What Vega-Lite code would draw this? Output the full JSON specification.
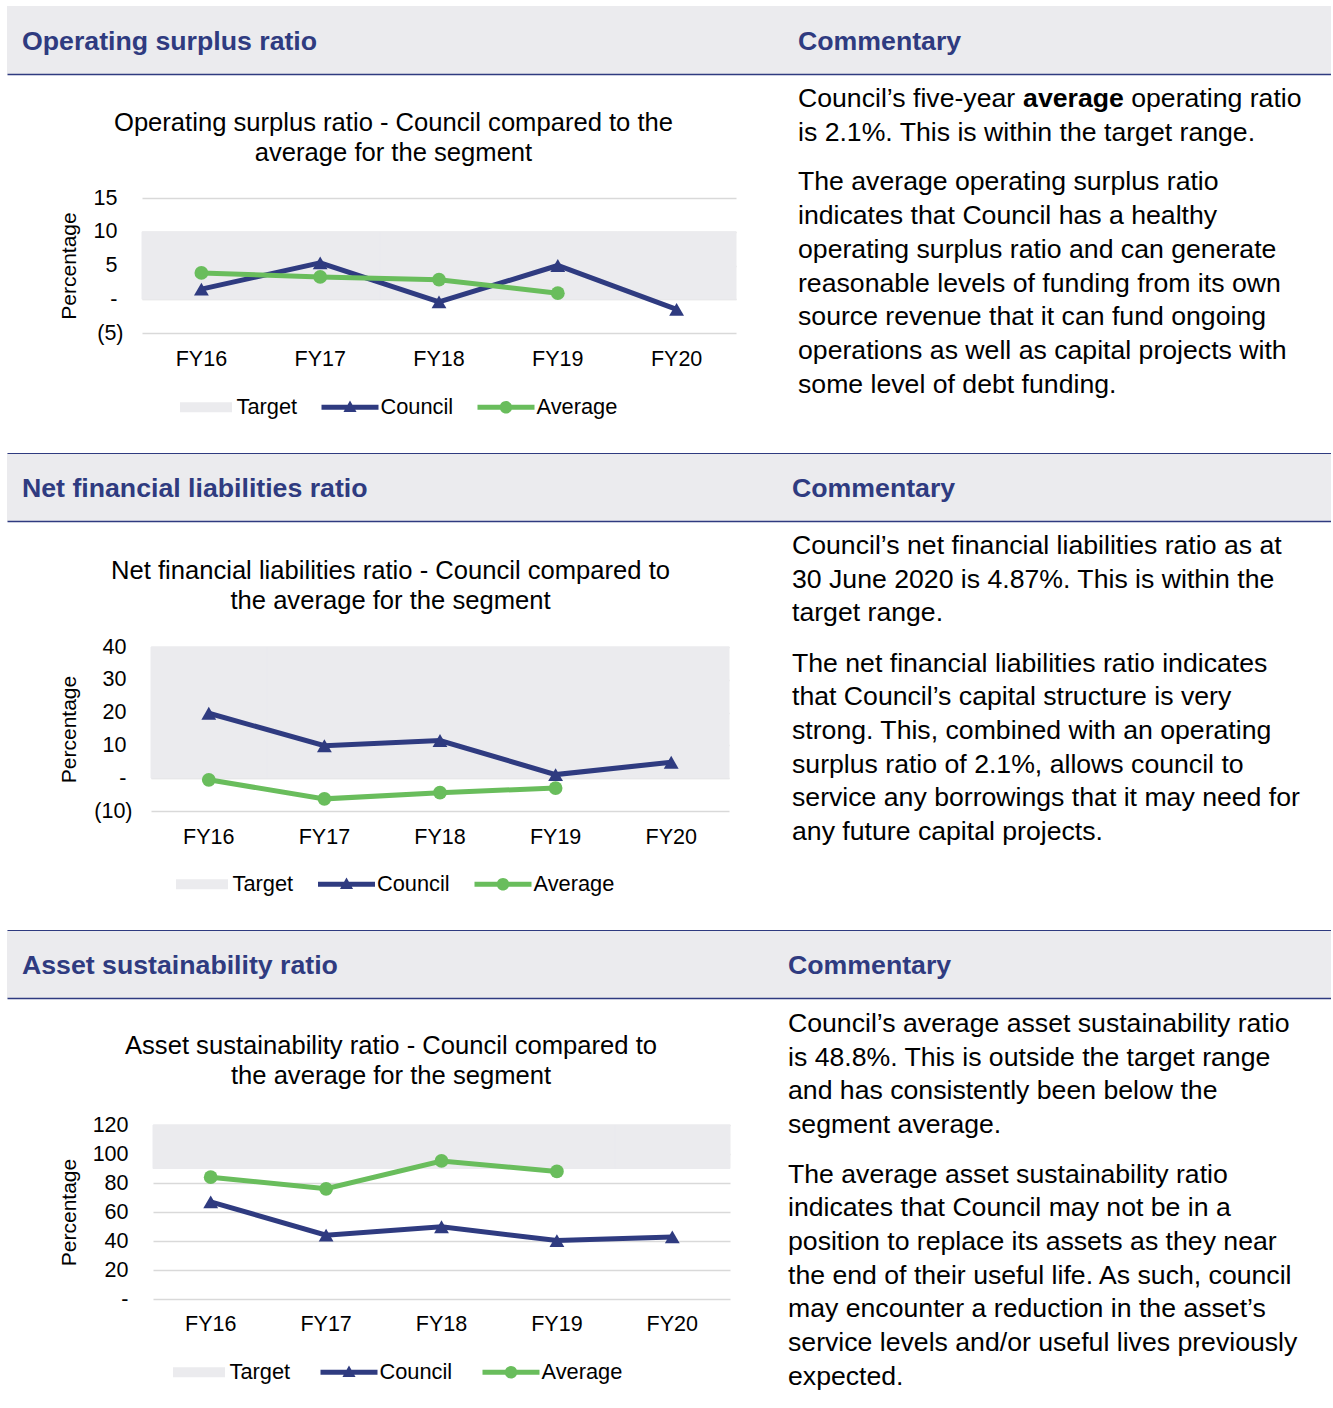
{
  "$schema": "https://vega.github.io/schema/vega-lite/v6.json",
  "background": "white",
  "padding": {"left": 7, "top": 6, "right": 0, "bottom": 0},
  "spacing": 0,
  "resolve": {"scale": {"x": "independent", "y": "independent", "color": "independent"}, "legend": {"color": "independent"}},
  "config": {
    "view": {"stroke": null},
    "font": "Liberation Sans",
    "concat": {"spacing": 0}
  },
  "datasets": {
    "osr": [
      {"year": "FY16", "series": "Council", "value": 1.5},
      {"year": "FY17", "series": "Council", "value": 5.4},
      {"year": "FY18", "series": "Council", "value": -0.4},
      {"year": "FY19", "series": "Council", "value": 5.0},
      {"year": "FY20", "series": "Council", "value": -1.5},
      {"year": "FY16", "series": "Average", "value": 3.9},
      {"year": "FY17", "series": "Average", "value": 3.3},
      {"year": "FY18", "series": "Average", "value": 2.9},
      {"year": "FY19", "series": "Average", "value": 0.9}
    ],
    "osr_t": [
      {"year": "FY16", "series": "Target", "lo": 0, "hi": 10},
      {"year": "FY17", "series": "Target", "lo": 0, "hi": 10},
      {"year": "FY18", "series": "Target", "lo": 0, "hi": 10},
      {"year": "FY19", "series": "Target", "lo": 0, "hi": 10},
      {"year": "FY20", "series": "Target", "lo": 0, "hi": 10}
    ],
    "nfl": [
      {"year": "FY16", "series": "Council", "value": 19.8},
      {"year": "FY17", "series": "Council", "value": 9.9},
      {"year": "FY18", "series": "Council", "value": 11.5},
      {"year": "FY19", "series": "Council", "value": 1.1},
      {"year": "FY20", "series": "Council", "value": 4.87},
      {"year": "FY16", "series": "Average", "value": -0.5},
      {"year": "FY17", "series": "Average", "value": -6.3},
      {"year": "FY18", "series": "Average", "value": -4.4},
      {"year": "FY19", "series": "Average", "value": -3.0}
    ],
    "nfl_t": [
      {"year": "FY16", "series": "Target", "lo": 0, "hi": 40},
      {"year": "FY17", "series": "Target", "lo": 0, "hi": 40},
      {"year": "FY18", "series": "Target", "lo": 0, "hi": 40},
      {"year": "FY19", "series": "Target", "lo": 0, "hi": 40},
      {"year": "FY20", "series": "Target", "lo": 0, "hi": 40}
    ],
    "asr": [
      {"year": "FY16", "series": "Council", "value": 67.0},
      {"year": "FY17", "series": "Council", "value": 44.0},
      {"year": "FY18", "series": "Council", "value": 49.8},
      {"year": "FY19", "series": "Council", "value": 40.3},
      {"year": "FY20", "series": "Council", "value": 42.8},
      {"year": "FY16", "series": "Average", "value": 84.0},
      {"year": "FY17", "series": "Average", "value": 76.0},
      {"year": "FY18", "series": "Average", "value": 95.2},
      {"year": "FY19", "series": "Average", "value": 88.0}
    ],
    "asr_t": [
      {"year": "FY16", "series": "Target", "lo": 90, "hi": 120},
      {"year": "FY17", "series": "Target", "lo": 90, "hi": 120},
      {"year": "FY18", "series": "Target", "lo": 90, "hi": 120},
      {"year": "FY19", "series": "Target", "lo": 90, "hi": 120},
      {"year": "FY20", "series": "Target", "lo": 90, "hi": 120}
    ],
    "c1": [
      {"line": 0, "part": "a", "text": "Council’s five-year"},
      {"line": 0, "part": "b", "text": "average"},
      {"line": 0, "part": "c", "text": "operating ratio"},
      {"line": 1, "part": "a", "text": "is 2.1%. This is within the target range."},
      {"line": 2, "part": "p2", "text": "The average operating surplus ratio"},
      {"line": 3, "part": "p2", "text": "indicates that Council has a healthy"},
      {"line": 4, "part": "p2", "text": "operating surplus ratio and can generate"},
      {"line": 5, "part": "p2", "text": "reasonable levels of funding from its own"},
      {"line": 6, "part": "p2", "text": "source revenue that it can fund ongoing"},
      {"line": 7, "part": "p2", "text": "operations as well as capital projects with"},
      {"line": 8, "part": "p2", "text": "some level of debt funding."}
    ],
    "c2": [
      {"line": 0, "part": "a", "text": "Council’s net financial liabilities ratio as at"},
      {"line": 1, "part": "a", "text": "30 June 2020 is 4.87%. This is within the"},
      {"line": 2, "part": "a", "text": "target range."},
      {"line": 3, "part": "p2", "text": "The net financial liabilities ratio indicates"},
      {"line": 4, "part": "p2", "text": "that Council’s capital structure is very"},
      {"line": 5, "part": "p2", "text": "strong. This, combined with an operating"},
      {"line": 6, "part": "p2", "text": "surplus ratio of 2.1%, allows council to"},
      {"line": 7, "part": "p2", "text": "service any borrowings that it may need for"},
      {"line": 8, "part": "p2", "text": "any future capital projects."}
    ],
    "c3": [
      {"line": 0, "part": "a", "text": "Council’s average asset sustainability ratio"},
      {"line": 1, "part": "a", "text": "is 48.8%. This is outside the target range"},
      {"line": 2, "part": "a", "text": "and has consistently been below the"},
      {"line": 3, "part": "a", "text": "segment average."},
      {"line": 4, "part": "p2", "text": "The average asset sustainability ratio"},
      {"line": 5, "part": "p2", "text": "indicates that Council may not be in a"},
      {"line": 6, "part": "p2", "text": "position to replace its assets as they near"},
      {"line": 7, "part": "p2", "text": "the end of their useful life. As such, council"},
      {"line": 8, "part": "p2", "text": "may encounter a reduction in the asset’s"},
      {"line": 9, "part": "p2", "text": "service levels and/or useful lives previously"},
      {"line": 10, "part": "p2", "text": "expected."}
    ]
  },
  "vconcat": [
    {
      "width": 1324, "height": 68,
      "view": {"fill": "#ebebee", "stroke": null},
      "data": {"values": [{"col": "ratio", "label": "Operating surplus ratio"}, {"col": "commentary", "label": "Commentary"}]},
      "mark": {"type": "text", "align": "left", "baseline": "middle", "dy": 2, "font": "Liberation Sans", "fontWeight": "bold", "fontSize": 26.7, "color": "#2f3b80"},
      "encoding": {
        "x": {"field": "col", "type": "nominal", "scale": {"type": "point", "domain": ["ratio", "commentary"], "range": [0, 1324], "padding": 0.353093, "align": 0.027372}, "axis": null},
        "y": {"datum": 0.5, "type": "quantitative", "scale": {"domain": [0, 1], "nice": false, "zero": false},
              "axis": {"values": [0], "grid": true, "gridColor": "#2f3b80", "gridWidth": 1.5, "labels": false, "ticks": false, "domain": false, "title": null, "minExtent": 0}},
        "text": {"field": "label"}
      }
    },
    {
      "spacing": 0,
      "resolve": {"scale": {"x": "independent", "y": "independent", "color": "independent"}, "legend": {"color": "independent"}},
      "hconcat": [
        {"width": 51, "height": 1, "data": {"values": []}, "mark": "point"},
        {
          "spacing": 0,
          "resolve": {"scale": {"x": "independent", "y": "independent", "color": "independent"}, "legend": {"color": "independent"}},
          "vconcat": [
            {"width": 1, "height": 37, "data": {"values": []}, "mark": "point"},
            {
              "width": 594, "height": 135,
              "title": {"text": ["Operating surplus ratio - Council compared to the", "average for the segment"], "font": "Liberation Sans", "fontSize": 25.6, "fontWeight": "normal", "color": "#000000", "lineHeight": 30, "anchor": "middle", "frame": "group", "dx": -45.5, "offset": 20},
              "encoding": {
                "x": {"field": "year", "type": "nominal", "scale": {"domain": ["FY16", "FY17", "FY18", "FY19", "FY20"], "paddingInner": 0, "paddingOuter": 0},
                      "axis": {"title": null, "domain": false, "ticks": false, "tickSize": 0, "labelPadding": 15, "labelFontSize": 21.5, "labelFont": "Liberation Sans", "labelColor": "#000000", "labelAngle": 0, "grid": false}},
                "y": {"field": "value", "type": "quantitative", "scale": {"domain": [-5, 15], "nice": false, "zero": false},
                      "axis": {"title": "Percentage", "titleFont": "Liberation Sans", "titleFontSize": 21, "titleFontWeight": "normal", "titleColor": "#000000", "titlePadding": 14, "labelFont": "Liberation Sans", "labelFontSize": 21.5, "labelColor": "#000000",
                               "labelPadding": {"condition": {"test": "datum.value < 0", "value": 19}, "value": 25},
                               "domain": false, "ticks": false, "tickSize": 0, "values": [-5, 0, 5, 10, 15], "gridColor": "#d9d9d9", "gridWidth": 1.5,
                               "labelExpr": "datum.value == 0 ? '-' : datum.value < 0 ? '(' + format(-datum.value, 'd') + ')' : format(datum.value, 'd')"}},
                "color": {"field": "series", "type": "nominal", "scale": {"domain": ["Target", "Council", "Average"], "range": ["#ebebee", "#2f3b80", "#69bd5c"]},
                          "legend": {"title": null, "orient": "none", "legendX": 35.5, "legendY": 180.5, "direction": "horizontal", "padding": 0, "symbolSize": 3249, "labelOffset": 2, "columnPadding": 24, "labelFontSize": 21.8, "labelFont": "Liberation Sans", "labelColor": "#000000",
                                     "encoding": {"symbols": {
                                       "shape": {"value": {"expr": "datum.value === 'Target' ? 'M-0.912,-0.175H0.912V0.175H-0.912Z' : datum.value === 'Council' ? 'M-1,-0.088H1V0.088H-1Z M0,-0.24L0.23,0.16H-0.23Z' : 'M-1,-0.088H1V0.088H-1Z M-0.22,0A0.22,0.22 0 1,1 0.22,0A0.22,0.22 0 1,1 -0.22,0Z'"}},
                                       "fill": {"value": {"expr": "datum.value === 'Target' ? '#ebebee' : datum.value === 'Council' ? '#2f3b80' : '#69bd5c'"}},
                                       "stroke": {"value": "transparent"},
                                       "strokeWidth": {"value": 0},
                                       "opacity": {"value": 1}
                                     }}}}
              },
              "layer": [
                {"data": {"name": "osr_t"}, "mark": {"type": "rect", "stroke": "#ebebee", "strokeWidth": 1},
                 "encoding": {"y": {"field": "lo", "type": "quantitative", "title": "Percentage"}, "y2": {"field": "hi"}}},
                {"data": {"name": "osr"}, "transform": [{"filter": "datum.series === 'Council'"}],
                 "mark": {"type": "line", "strokeWidth": 5, "point": {"shape": "triangle-up", "size": 220, "filled": true}}},
                {"data": {"name": "osr"}, "transform": [{"filter": "datum.series === 'Average'"}],
                 "mark": {"type": "line", "strokeWidth": 5, "point": {"shape": "circle", "size": 190, "filled": true}}}
              ]
            }
          ]
        },
        {"width": 61, "height": 1, "data": {"values": []}, "mark": "point"},
        {
          "width": 533, "height": 379,
          "data": {"name": "c1"},
          "encoding": {
            "y": {"field": "line", "type": "quantitative", "scale": {"domain": [0, 10], "range": [25, 363]}, "axis": null},
            "x": {"value": 0},
            "text": {"field": "text"}
          },
          "layer": [
            {"transform": [{"filter": "datum.part === 'a'"}], "mark": {"type": "text", "align": "left", "baseline": "middle", "font": "Liberation Sans", "fontSize": 26.65, "color": "#000000"}},
            {"transform": [{"filter": "datum.part === 'b'"}], "mark": {"type": "text", "align": "left", "baseline": "middle", "font": "Liberation Sans", "fontSize": 26.65, "fontWeight": "bold", "color": "#000000", "dx": 225.1}},
            {"transform": [{"filter": "datum.part === 'c'"}], "mark": {"type": "text", "align": "left", "baseline": "middle", "font": "Liberation Sans", "fontSize": 26.65, "color": "#000000", "dx": 333.2}},
            {"transform": [{"filter": "datum.part === 'p2'"}], "mark": {"type": "text", "align": "left", "baseline": "middle", "font": "Liberation Sans", "fontSize": 26.65, "color": "#000000", "dy": 15.5}}
          ]
        }
      ]
    },
    {
      "width": 1324, "height": 68,
      "view": {"fill": "#ebebee", "stroke": null},
      "data": {"values": [{"col": "ratio", "label": "Net financial liabilities ratio"}, {"col": "commentary", "label": "Commentary"}]},
      "mark": {"type": "text", "align": "left", "baseline": "middle", "dy": 2, "font": "Liberation Sans", "fontWeight": "bold", "fontSize": 26.7, "color": "#2f3b80"},
      "encoding": {
        "x": {"field": "col", "type": "nominal", "scale": {"type": "point", "domain": ["ratio", "commentary"], "range": [0, 1324], "padding": 0.35974, "align": 0.027076}, "axis": null},
        "y": {"datum": 0.5, "type": "quantitative", "scale": {"domain": [0, 1], "nice": false, "zero": false},
              "axis": {"values": [0, 1], "grid": true, "gridColor": "#2f3b80", "gridWidth": {"condition": {"test": "datum.value === 0", "value": 1.5}, "value": 1}, "labels": false, "ticks": false, "domain": false, "title": null, "minExtent": 0}},
        "text": {"field": "label"}
      }
    },
    {
      "spacing": 0,
      "resolve": {"scale": {"x": "independent", "y": "independent", "color": "independent"}, "legend": {"color": "independent"}},
      "hconcat": [
        {"width": 51, "height": 1, "data": {"values": []}, "mark": "point"},
        {
          "spacing": 0,
          "resolve": {"scale": {"x": "independent", "y": "independent", "color": "independent"}, "legend": {"color": "independent"}},
          "vconcat": [
            {"width": 1, "height": 38, "data": {"values": []}, "mark": "point"},
            {
              "width": 578, "height": 164,
              "title": {"text": ["Net financial liabilities ratio - Council compared to", "the average for the segment"], "font": "Liberation Sans", "fontSize": 25.6, "fontWeight": "normal", "color": "#000000", "lineHeight": 30, "anchor": "middle", "frame": "group", "dx": -49.5, "offset": 21},
              "encoding": {
                "x": {"field": "year", "type": "nominal", "scale": {"domain": ["FY16", "FY17", "FY18", "FY19", "FY20"], "paddingInner": 0, "paddingOuter": 0},
                      "axis": {"title": null, "domain": false, "ticks": false, "tickSize": 0, "labelPadding": 15, "labelFontSize": 21.5, "labelFont": "Liberation Sans", "labelColor": "#000000", "labelAngle": 0, "grid": false}},
                "y": {"field": "value", "type": "quantitative", "scale": {"domain": [-10, 40], "nice": false, "zero": false},
                      "axis": {"title": "Percentage", "titleFont": "Liberation Sans", "titleFontSize": 21, "titleFontWeight": "normal", "titleColor": "#000000", "titlePadding": 14, "labelFont": "Liberation Sans", "labelFontSize": 21.5, "labelColor": "#000000",
                               "labelPadding": {"condition": {"test": "datum.value < 0", "value": 19}, "value": 25},
                               "domain": false, "ticks": false, "tickSize": 0, "values": [-10, 0, 10, 20, 30, 40], "gridColor": "#d9d9d9", "gridWidth": 1.5,
                               "labelExpr": "datum.value == 0 ? '-' : datum.value < 0 ? '(' + format(-datum.value, 'd') + ')' : format(datum.value, 'd')"}},
                "color": {"field": "series", "type": "nominal", "scale": {"domain": ["Target", "Council", "Average"], "range": ["#ebebee", "#2f3b80", "#69bd5c"]},
                          "legend": {"title": null, "orient": "none", "legendX": 22.5, "legendY": 208.5, "direction": "horizontal", "padding": 0, "symbolSize": 3249, "labelOffset": 2, "columnPadding": 24.5, "labelFontSize": 21.8, "labelFont": "Liberation Sans", "labelColor": "#000000",
                                     "encoding": {"symbols": {
                                       "shape": {"value": {"expr": "datum.value === 'Target' ? 'M-0.912,-0.175H0.912V0.175H-0.912Z' : datum.value === 'Council' ? 'M-1,-0.088H1V0.088H-1Z M0,-0.24L0.23,0.16H-0.23Z' : 'M-1,-0.088H1V0.088H-1Z M-0.22,0A0.22,0.22 0 1,1 0.22,0A0.22,0.22 0 1,1 -0.22,0Z'"}},
                                       "fill": {"value": {"expr": "datum.value === 'Target' ? '#ebebee' : datum.value === 'Council' ? '#2f3b80' : '#69bd5c'"}},
                                       "stroke": {"value": "transparent"},
                                       "strokeWidth": {"value": 0},
                                       "opacity": {"value": 1}
                                     }}}}
              },
              "layer": [
                {"data": {"name": "nfl_t"}, "mark": {"type": "rect", "stroke": "#ebebee", "strokeWidth": 1},
                 "encoding": {"y": {"field": "lo", "type": "quantitative", "title": "Percentage"}, "y2": {"field": "hi"}}},
                {"data": {"name": "nfl"}, "transform": [{"filter": "datum.series === 'Council'"}],
                 "mark": {"type": "line", "strokeWidth": 5, "point": {"shape": "triangle-up", "size": 220, "filled": true}}},
                {"data": {"name": "nfl"}, "transform": [{"filter": "datum.series === 'Average'"}],
                 "mark": {"type": "line", "strokeWidth": 5, "point": {"shape": "circle", "size": 190, "filled": true}}}
              ]
            }
          ]
        },
        {"width": 62, "height": 1, "data": {"values": []}, "mark": "point"},
        {
          "width": 539, "height": 409,
          "data": {"name": "c2"},
          "encoding": {
            "y": {"field": "line", "type": "quantitative", "scale": {"domain": [0, 10], "range": [25, 362]}, "axis": null},
            "x": {"value": 0},
            "text": {"field": "text"}
          },
          "layer": [
            {"transform": [{"filter": "datum.part === 'a'"}], "mark": {"type": "text", "align": "left", "baseline": "middle", "font": "Liberation Sans", "fontSize": 26.65, "color": "#000000"}},
            {"transform": [{"filter": "datum.part === 'p2'"}], "mark": {"type": "text", "align": "left", "baseline": "middle", "font": "Liberation Sans", "fontSize": 26.65, "color": "#000000", "dy": 16.5}}
          ]
        }
      ]
    },
    {
      "width": 1324, "height": 68,
      "view": {"fill": "#ebebee", "stroke": null},
      "data": {"values": [{"col": "ratio", "label": "Asset sustainability ratio"}, {"col": "commentary", "label": "Commentary"}]},
      "mark": {"type": "text", "align": "left", "baseline": "middle", "dy": 2, "font": "Liberation Sans", "fontWeight": "bold", "fontSize": 26.7, "color": "#2f3b80"},
      "encoding": {
        "x": {"field": "col", "type": "nominal", "scale": {"type": "point", "domain": ["ratio", "commentary"], "range": [0, 1324], "padding": 0.36423, "align": 0.026882}, "axis": null},
        "y": {"datum": 0.5, "type": "quantitative", "scale": {"domain": [0, 1], "nice": false, "zero": false},
              "axis": {"values": [0, 1], "grid": true, "gridColor": "#2f3b80", "gridWidth": {"condition": {"test": "datum.value === 0", "value": 1.5}, "value": 1}, "labels": false, "ticks": false, "domain": false, "title": null, "minExtent": 0}},
        "text": {"field": "label"}
      }
    },
    {
      "spacing": 0,
      "resolve": {"scale": {"x": "independent", "y": "independent", "color": "independent"}, "legend": {"color": "independent"}},
      "hconcat": [
        {"width": 51, "height": 1, "data": {"values": []}, "mark": "point"},
        {
          "spacing": 0,
          "resolve": {"scale": {"x": "independent", "y": "independent", "color": "independent"}, "legend": {"color": "independent"}},
          "vconcat": [
            {"width": 1, "height": 35.5, "data": {"values": []}, "mark": "point"},
            {
              "width": 577, "height": 174,
              "title": {"text": ["Asset sustainability ratio - Council compared to", "the average for the segment"], "font": "Liberation Sans", "fontSize": 25.6, "fontWeight": "normal", "color": "#000000", "lineHeight": 30, "anchor": "middle", "frame": "group", "dx": -50.5, "offset": 24},
              "encoding": {
                "x": {"field": "year", "type": "nominal", "scale": {"domain": ["FY16", "FY17", "FY18", "FY19", "FY20"], "paddingInner": 0, "paddingOuter": 0},
                      "axis": {"title": null, "domain": false, "ticks": false, "tickSize": 0, "labelPadding": 14, "labelFontSize": 21.5, "labelFont": "Liberation Sans", "labelColor": "#000000", "labelAngle": 0, "grid": false}},
                "y": {"field": "value", "type": "quantitative", "scale": {"domain": [0, 120], "nice": false, "zero": false},
                      "axis": {"title": "Percentage", "titleFont": "Liberation Sans", "titleFontSize": 21, "titleFontWeight": "normal", "titleColor": "#000000", "titlePadding": 13, "labelFont": "Liberation Sans", "labelFontSize": 21.5, "labelColor": "#000000",
                               "labelPadding": {"condition": {"test": "datum.value < 0", "value": 19}, "value": 25},
                               "domain": false, "ticks": false, "tickSize": 0, "values": [0, 20, 40, 60, 80, 100, 120], "gridColor": "#d9d9d9", "gridWidth": 1.5,
                               "labelExpr": "datum.value == 0 ? '-' : datum.value < 0 ? '(' + format(-datum.value, 'd') + ')' : format(datum.value, 'd')"}},
                "color": {"field": "series", "type": "nominal", "scale": {"domain": ["Target", "Council", "Average"], "range": ["#ebebee", "#2f3b80", "#69bd5c"]},
                          "legend": {"title": null, "orient": "none", "legendX": 17.5, "legendY": 218.5, "direction": "horizontal", "padding": 0, "symbolSize": 3249, "labelOffset": 2, "columnPadding": 30, "labelFontSize": 21.8, "labelFont": "Liberation Sans", "labelColor": "#000000",
                                     "encoding": {"symbols": {
                                       "shape": {"value": {"expr": "datum.value === 'Target' ? 'M-0.912,-0.175H0.912V0.175H-0.912Z' : datum.value === 'Council' ? 'M-1,-0.088H1V0.088H-1Z M0,-0.24L0.23,0.16H-0.23Z' : 'M-1,-0.088H1V0.088H-1Z M-0.22,0A0.22,0.22 0 1,1 0.22,0A0.22,0.22 0 1,1 -0.22,0Z'"}},
                                       "fill": {"value": {"expr": "datum.value === 'Target' ? '#ebebee' : datum.value === 'Council' ? '#2f3b80' : '#69bd5c'"}},
                                       "stroke": {"value": "transparent"},
                                       "strokeWidth": {"value": 0},
                                       "opacity": {"value": 1}
                                     }}}}
              },
              "layer": [
                {"data": {"name": "asr_t"}, "mark": {"type": "rect", "stroke": "#ebebee", "strokeWidth": 1},
                 "encoding": {"y": {"field": "lo", "type": "quantitative", "title": "Percentage"}, "y2": {"field": "hi"}}},
                {"data": {"name": "asr"}, "transform": [{"filter": "datum.series === 'Council'"}],
                 "mark": {"type": "line", "strokeWidth": 5, "point": {"shape": "triangle-up", "size": 220, "filled": true}}},
                {"data": {"name": "asr"}, "transform": [{"filter": "datum.series === 'Average'"}],
                 "mark": {"type": "line", "strokeWidth": 5, "point": {"shape": "circle", "size": 190, "filled": true}}}
              ]
            }
          ]
        },
        {"width": 57, "height": 1, "data": {"values": []}, "mark": "point"},
        {
          "width": 543, "height": 409,
          "data": {"name": "c3"},
          "encoding": {
            "y": {"field": "line", "type": "quantitative", "scale": {"domain": [0, 10], "range": [26, 362.7]}, "axis": null},
            "x": {"value": 0},
            "text": {"field": "text"}
          },
          "layer": [
            {"transform": [{"filter": "datum.part === 'a'"}], "mark": {"type": "text", "align": "left", "baseline": "middle", "font": "Liberation Sans", "fontSize": 26.65, "color": "#000000"}},
            {"transform": [{"filter": "datum.part === 'p2'"}], "mark": {"type": "text", "align": "left", "baseline": "middle", "font": "Liberation Sans", "fontSize": 26.65, "color": "#000000", "dy": 16}}
          ]
        }
      ]
    }
  ]
}
